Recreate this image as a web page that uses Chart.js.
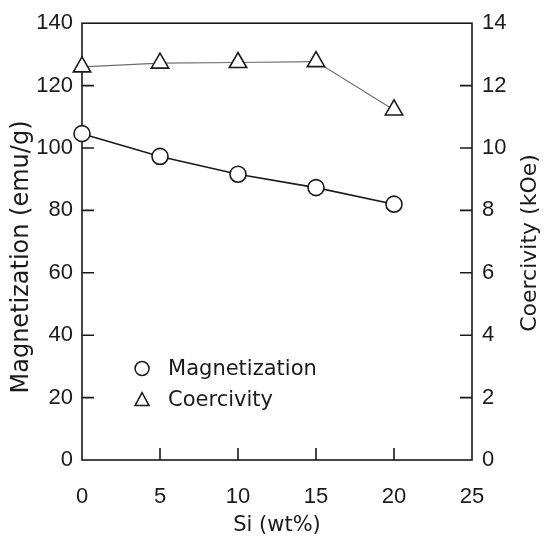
<!DOCTYPE html>
<html lang="en">
<head>
<meta charset="UTF-8">
<title>Magnetization and Coercivity vs Si</title>
<script src="https://cdn.jsdelivr.net/npm/chart.js"></script>
<style>
  html, body { margin: 0; padding: 0; background: #fff; }
  #wrap { width: 550px; height: 542px; }
</style>
</head>
<body>
<div id="wrap"><canvas id="chart"></canvas></div>
<script>
const siContent = [0, 5, 10, 15, 20];
const magnetization = [104.6, 97.3, 91.6, 87.3, 82.0];
const coercivity = [12.6, 12.72, 12.74, 12.77, 11.22];
const xTicks = [0, 5, 10, 15, 20, 25];
const leftTicks = [0, 20, 40, 60, 80, 100, 120, 140];
const rightTicks = [0, 2, 4, 6, 8, 10, 12, 14];

const TEXT_FONT = "'DejaVu Sans', 'Noto Sans CJK JP', sans-serif";
const TICK_FONT = "'Liberation Sans', Arial, sans-serif";
const INK = '#1a1a1a';

// frame + inward tick marks, under the data
const frame = {
  id: 'frame',
  beforeDatasetsDraw(chart) {
    const c = chart.ctx, a = chart.chartArea;
    const sx = chart.scales.x, sy = chart.scales.y, sy2 = chart.scales.y2;
    const len = 12;
    c.save();
    c.strokeStyle = INK;
    c.lineWidth = 1.6;
    c.strokeRect(a.left, a.top, a.right - a.left, a.bottom - a.top);
    c.beginPath();
    xTicks.slice(1, -1).forEach(v => {
      const px = sx.getPixelForValue(v);
      c.moveTo(px, a.bottom); c.lineTo(px, a.bottom - len);
    });
    leftTicks.slice(1, -1).forEach(v => {
      const py = sy.getPixelForValue(v);
      c.moveTo(a.left, py); c.lineTo(a.left + len, py);
    });
    rightTicks.slice(1, -1).forEach(v => {
      const py = sy2.getPixelForValue(v);
      c.moveTo(a.right, py); c.lineTo(a.right - len, py);
    });
    c.stroke();
    c.restore();
  }
};

// both y titles (bottom-to-top) and the legend inside the plot
function verticalText(c, text, x, y, size) {
  c.save();
  c.fillStyle = INK;
  c.font = size + 'px ' + TEXT_FONT;
  c.textAlign = 'center';
  c.textBaseline = 'middle';
  c.translate(x, y);
  c.rotate(-Math.PI / 2);
  c.fillText(text, 0, 0);
  c.restore();
}

const extras = {
  id: 'extras',
  afterDraw(chart) {
    const c = chart.ctx, sx = chart.scales.x, sy = chart.scales.y;
    verticalText(c, 'Magnetization (emu/g)', 22, 257, 24);
    verticalText(c, 'Coercivity (kOe)', 530, 243, 22);

    c.save();
    c.font = '21px ' + TEXT_FONT;
    c.textBaseline = 'middle';
    c.fillStyle = INK;
    const lx = sx.getPixelForValue(3.85), ly = sy.getPixelForValue(29.3), gap = 31;
    chart.data.datasets.forEach((ds, i) => {
      const y = ly + i * gap;
      c.strokeStyle = INK;
      c.lineWidth = 1.5;
      c.beginPath();
      if (ds.pointStyle === 'triangle') {
        c.moveTo(lx, y - 7); c.lineTo(lx + 7, y + 6); c.lineTo(lx - 7, y + 6); c.closePath();
      } else {
        c.arc(lx, y, 7, 0, Math.PI * 2);
      }
      c.stroke();
      c.fillText(ds.label, lx + 26, y + 1);
    });
    c.restore();
  }
};

new Chart(document.getElementById('chart'), {
  type: 'line',
  data: {
    datasets: [
      {
        label: 'Magnetization',
        data: siContent.map((x, i) => ({ x, y: magnetization[i] })),
        yAxisID: 'y',
        borderColor: INK,
        borderWidth: 1.6,
        pointStyle: 'circle',
        pointRadius: 8,
        pointBackgroundColor: '#fff',
        pointBorderColor: INK,
        pointBorderWidth: 1.6,
        tension: 0,
        clip: false
      },
      {
        label: 'Coercivity',
        data: siContent.map((x, i) => ({ x, y: coercivity[i] })),
        yAxisID: 'y2',
        borderColor: '#6e6e6e',
        borderWidth: 1.2,
        pointStyle: 'triangle',
        pointRadius: 10,
        pointBackgroundColor: '#fff',
        pointBorderColor: INK,
        pointBorderWidth: 1.6,
        tension: 0,
        clip: false
      }
    ]
  },
  options: {
    responsive: true,
    maintainAspectRatio: false,
    animation: false,
    layout: { padding: { top: 23, left: 0, right: 0 } },
    plugins: { legend: { display: false }, tooltip: { enabled: false } },
    scales: {
      x: {
        type: 'linear', min: 0, max: 25,
        afterBuildTicks: s => { s.ticks = xTicks.map(v => ({ value: v })); },
        afterFit: s => { s.height = 82; },
        grid: { display: false, drawTicks: false },
        border: { display: false },
        ticks: { color: INK, padding: 24, font: { family: TICK_FONT, size: 22 } },
        title: { display: true, text: 'Si (wt%)', color: INK, padding: { top: 0 }, font: { family: TEXT_FONT, size: 21 } }
      },
      y: {
        type: 'linear', position: 'left', min: 0, max: 140,
        afterBuildTicks: s => { s.ticks = leftTicks.map(v => ({ value: v })); },
        afterFit: s => { s.width = 82; },
        grid: { display: false, drawTicks: false },
        border: { display: false },
        ticks: { color: INK, padding: 9, font: { family: TICK_FONT, size: 22 } }
      },
      y2: {
        type: 'linear', position: 'right', min: 0, max: 14,
        afterBuildTicks: s => { s.ticks = rightTicks.map(v => ({ value: v })); },
        afterFit: s => { s.width = 78; },
        grid: { display: false, drawTicks: false },
        border: { display: false },
        ticks: { color: INK, padding: 10, font: { family: TICK_FONT, size: 22 } }
      }
    }
  },
  plugins: [frame, extras]
});
</script>
</body>
</html>
